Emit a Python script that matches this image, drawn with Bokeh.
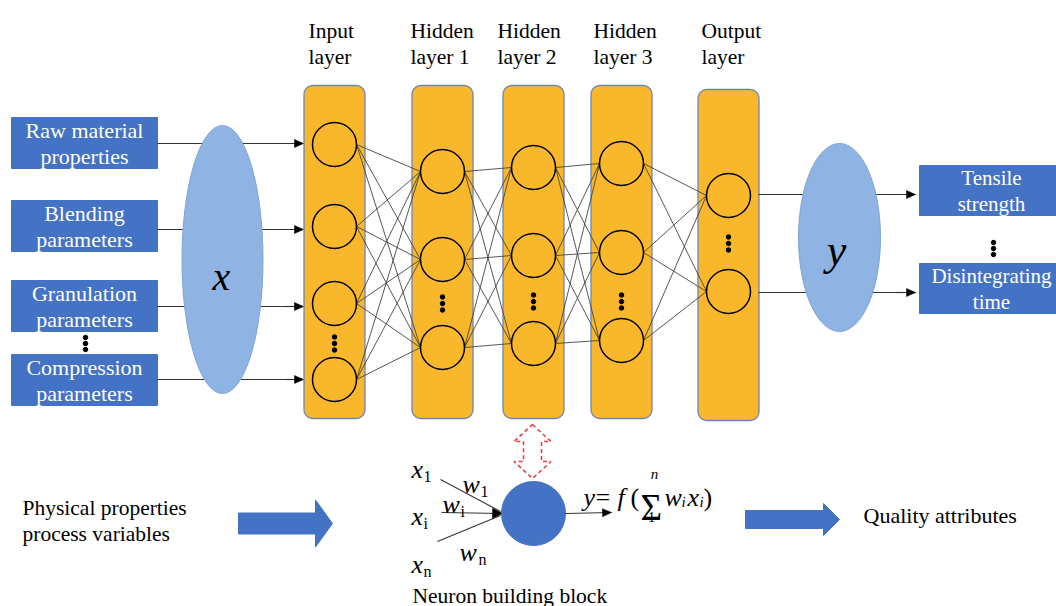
import numpy as np
from bokeh.plotting import figure
from bokeh.models import Range1d, Label
from bokeh.embed import file_html
from bokeh.resources import INLINE

# ---------------- data (labels / structure) ----------------
input_boxes = [["Raw material", "properties"], ["Blending", "parameters"],
               ["Granulation", "parameters"], ["Compression", "parameters"]]
output_boxes = [["Tensile", "strength"], ["Disintegrating", "time"]]
layer_titles = [["Input", "layer"], ["Hidden", "layer 1"], ["Hidden", "layer 2"],
                ["Hidden", "layer 3"], ["Output", "layer"]]
neurons_per_layer = [4, 3, 3, 3, 2]
ellipse_symbols = ["x", "y"]
bottom_left_text = ["Physical properties", "process variables"]
bottom_right_text = ["Quality attributes"]
block_caption = ["Neuron building block"]
input_subscripts = ["1", "i", "n"]
weight_subscripts = ["1", "i", "n"]

# ---------------- layout constants (pixel frame 1056 x 606, y downward) ----------------
FONT = "Liberation Serif"
BLUE = "#4472C4"
ORANGE = "#F9B82B"
LIGHT = "#8FB4E3"
box_x0, box_x1, box_h = 11, 157, 51
box_top = [117, 200, 280, 354]
arrow_y = [143, 229, 306, 379]
layer_x = [334, 442, 533, 621, 728]
layer_top = [85, 85, 85, 85, 89]
layer_bot = [418, 418, 418, 418, 420]
neuron_y = [[144, 226, 303, 379], [171, 259, 347], [167, 255, 343], [163, 252, 340], [195, 291]]
dots_y = [343, 303, 301, 301, 243]
title_x = [308, 410, 497, 593, 701]
out_y = [194, 292]
rb_top, rb_h = [165, 263], 50
R = 22

p = figure(width=1056, height=606, x_range=Range1d(0, 1056), y_range=Range1d(606, 0),
           output_backend="svg", toolbar_location=None, min_border=0)
p.xaxis.visible = False
p.yaxis.visible = False
p.xgrid.visible = False
p.ygrid.visible = False
p.outline_line_color = None
p.background_fill_color = "white"


def txt(xs, ys, ts, size="21.5px", color="black", align="center", baseline="middle", italic=False):
    for x, y, t in zip(xs, ys, ts):
        p.add_layout(Label(x=x, y=y, text=t, text_font=FONT, text_font_size=size,
                           text_color=color, text_align=align, text_baseline=baseline,
                           text_font_style="italic" if italic else "normal"))


# ================= SHAPES =================
def rrect(x0, y0, x1, y1, r, n=10):
    xs, ys = [], []
    for cx, cy, a0 in [(x0 + r, y0 + r, 180), (x1 - r, y0 + r, 270),
                       (x1 - r, y1 - r, 0), (x0 + r, y1 - r, 90)]:
        a = np.radians(np.linspace(a0, a0 + 90, n))
        xs += list(cx + r * np.cos(a))
        ys += list(cy + r * np.sin(a))
    return xs, ys


def block_arrow(x0, x1, xh, yc, sh, hh):
    xs = [x0, xh, xh, x1, xh, xh, x0]
    ys = [yc - sh / 2, yc - sh / 2, yc - hh / 2, yc, yc + hh / 2, yc + sh / 2, yc + sh / 2]
    return xs, ys


def arrows(x0, y0, x1, y1, L=9, w=4, lw=1.2):
    p.segment(x0=x0, y0=y0, x1=x1, y1=y1, line_color="#333333", line_width=lw)
    hx, hy = [], []
    for a, b, c, d in zip(x0, y0, x1, y1):
        v = np.array([c - a, d - b], float)
        u = v / np.hypot(*v)
        n = np.array([-u[1], u[0]])
        base = np.array([c, d]) - L * u
        hx.append([c, base[0] + w * n[0], base[0] - w * n[0]])
        hy.append([d, base[1] + w * n[1], base[1] - w * n[1]])
    p.patches(xs=hx, ys=hy, fill_color="black", line_color="black", line_width=0.5)


# left input boxes
p.quad(left=[box_x0] * 4, right=[box_x1] * 4, top=box_top,
       bottom=[t + box_h for t in box_top], fill_color=BLUE, line_color=BLUE)
p.scatter(x=[85] * 3, y=[337, 343, 349], size=4.5, color="black")

# input arrows (line hidden behind x ellipse)
p.segment(x0=[box_x1] * 4, y0=arrow_y, x1=[292] * 4, y1=arrow_y, line_color="#333333", line_width=1.2)
p.ellipse(x=[222], y=[259], width=81, height=268, fill_color=LIGHT, line_color="#7EA3D4", line_width=1)
arrows([285] * 4, arrow_y, [303] * 4, arrow_y)

# layers
hw = 30.5
rx, ry = [], []
for cx, t, b in zip(layer_x, layer_top, layer_bot):
    xs, ys = rrect(cx - hw, t, cx + hw, b, 9)
    rx.append(xs)
    ry.append(ys)
p.patches(xs=rx, ys=ry, fill_color=ORANGE, line_color="#6C86B8", line_width=1.3)

sx0, sy0, sx1, sy1 = [], [], [], []
for li in range(len(neurons_per_layer) - 1):
    for ya in neuron_y[li]:
        for yb in neuron_y[li + 1]:
            sx0.append(layer_x[li] + R)
            sy0.append(ya)
            sx1.append(layer_x[li + 1] - R)
            sy1.append(yb)
p.segment(x0=sx0, y0=sy0, x1=sx1, y1=sy1, line_color="#444444", line_width=0.9)

cx_all, cy_all = [], []
for li, ys in enumerate(neuron_y):
    for y in ys:
        cx_all.append(layer_x[li])
        cy_all.append(y)
p.ellipse(x=cx_all, y=cy_all, width=2 * R, height=2 * R, fill_color=None,
          line_color="black", line_width=1.5)

dx, dy = [], []
for cx, cy in zip(layer_x, dots_y):
    for o in (-6.5, 0, 6.5):
        dx.append(cx)
        dy.append(cy + o)
p.scatter(x=dx, y=dy, size=4.5, color="black")

# output side
p.segment(x0=[758] * 2, y0=out_y, x1=[900] * 2, y1=out_y, line_color="#333333", line_width=1.2)
p.ellipse(x=[839], y=[237], width=82, height=188, fill_color=LIGHT, line_color="#7EA3D4", line_width=1)
arrows([895] * 2, out_y, [915] * 2, out_y)
p.quad(left=[919] * 2, right=[1070] * 2, top=rb_top, bottom=[t + rb_h for t in rb_top],
       fill_color=BLUE, line_color=BLUE)
p.scatter(x=[993] * 3, y=[242, 248, 254], size=4.5, color="black")

# red dashed double arrow
cx, top, bot, hwid, sw, hd = 532, 424, 478, 18.5, 9, 17
dxs = [cx, cx + hwid, cx + sw, cx + sw, cx + hwid, cx, cx - hwid, cx - sw, cx - sw, cx - hwid]
dys = [top, top + hd, top + hd, bot - hd, bot - hd, bot, bot - hd, bot - hd, top + hd, top + hd]
p.patch(x=dxs, y=dys, fill_color=None, line_color="#E8383D", line_width=1.5, line_dash="4 3")

# neuron building block
p.segment(x0=[440, 437], y0=[479, 541], x1=[500, 500], y1=[511, 515], line_color="#333333", line_width=1.1)
arrows([441], [512], [502], [513], L=10, w=5, lw=1.1)
p.ellipse(x=[533], y=[513], width=64, height=64, fill_color=BLUE, line_color=BLUE)
arrows([565], [513], [611], [512], L=9, w=4, lw=1.1)

# big block arrows
bx, by = block_arrow(238, 332, 315, 523, 21, 47)
p.patch(x=bx, y=by, fill_color=BLUE, line_color=BLUE)
bx, by = block_arrow(745, 839, 823, 519, 18, 32)
p.patch(x=bx, y=by, fill_color=BLUE, line_color=BLUE)

# ================= TEXTS (label annotations, painted on top) =================
for t, lines in zip(box_top, input_boxes):
    c = t + box_h / 2
    txt([84, 84], [c - 12.5, c + 13], lines, size="22px", color="white")
txt([221], [276], [ellipse_symbols[0]], size="40px", align="center", baseline="alphabetic", italic=True)
for x, (l1, l2) in zip(title_x, layer_titles):
    txt([x, x], [30, 56], [l1, l2], size="21.5px", align="left", baseline="alphabetic")
txt([836], [250], [ellipse_symbols[1]], size="44px", align="center", baseline="alphabetic", italic=True)
for t, lines in zip(rb_top, output_boxes):
    c = t + rb_h / 2
    txt([991, 991], [c - 12.5, c + 13], lines, size="21px", color="white")

txt([411] * 3, [469, 516, 564], ["x"] * 3, size="26px", align="left", baseline="alphabetic", italic=True)
txt([423, 423, 423], [476, 523, 571], input_subscripts, size="16px", align="left", baseline="alphabetic")
txt([462, 442, 459], [484, 504, 552], ["w"] * 3, size="26px", align="left", baseline="alphabetic", italic=True)
txt([480, 460, 478], [491, 511, 559], weight_subscripts, size="16px", align="left", baseline="alphabetic")

BL = 497
txt([583], [BL], ["y"], size="26px", align="left", baseline="alphabetic", italic=True)
txt([595], [BL], ["="], size="26px", align="left", baseline="alphabetic")
txt([617], [BL], ["f"], size="26px", align="left", baseline="alphabetic", italic=True)
txt([630], [BL], ["("], size="26px", align="left", baseline="alphabetic")
txt([640], [507], ["Σ"], size="37px", align="left", baseline="alphabetic")
txt([654], [473], ["n"], size="15px", align="center", baseline="alphabetic", italic=True)
txt([651], [516], ["1"], size="15px", align="center", baseline="alphabetic")
txt([664], [BL], ["w"], size="26px", align="left", baseline="alphabetic", italic=True)
txt([681], [501], ["i"], size="15px", align="left", baseline="alphabetic", italic=True)
txt([687], [BL], ["x"], size="26px", align="left", baseline="alphabetic", italic=True)
txt([699], [501], ["i"], size="15px", align="left", baseline="alphabetic", italic=True)
txt([703], [BL], [")"], size="26px", align="left", baseline="alphabetic")

txt([412], [595], block_caption, size="21.5px", align="left")
txt([22, 22], [507, 533], bottom_left_text, size="21.5px", align="left")
txt([863], [515], bottom_right_text, size="22px", align="left")

open("out.html", "w").write(file_html(p, INLINE))
